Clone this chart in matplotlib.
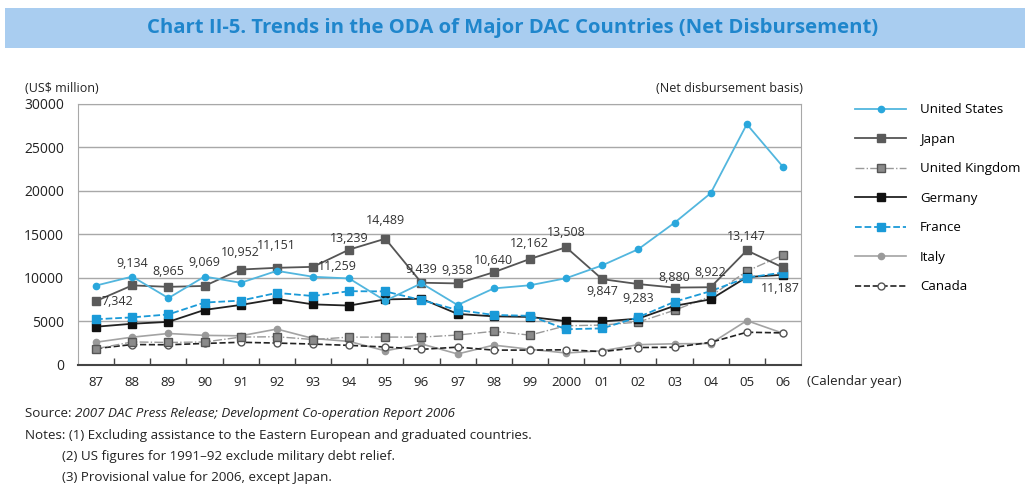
import numpy as np
import matplotlib.pyplot as plt
from matplotlib.patches import Rectangle

plt.rcParams['font.family'] = ['Open Sans', 'DejaVu Sans']

years = ['87', '88', '89', '90', '91', '92', '93', '94', '95', '96', '97',
         '98', '99', '2000', '01', '02', '03', '04', '05', '06']

# ODA net disbursements, US$ million
usa = [9115, 10141, 7676, 10150, 9430, 10800, 10123, 9927, 7367, 9377,
       6878, 8786, 9145, 9955, 11429, 13290, 16320, 19705, 27622, 22739]
japan = [7342, 9134, 8965, 9069, 10952, 11151, 11259, 13239, 14489, 9439,
         9358, 10640, 12162, 13508, 9847, 9283, 8880, 8922, 13147, 11187]
uk = [1871, 2645, 2587, 2638, 3201, 3243, 2920, 3197, 3202, 3199,
      3433, 3864, 3426, 4501, 4579, 4924, 6282, 7883, 10767, 12607]
germany = [4391, 4731, 4949, 6320, 6890, 7583, 6954, 6818, 7524, 7601,
           5857, 5581, 5515, 5030, 4990, 5324, 6784, 7534, 10082, 10351]
france = [5250, 5463, 5802, 7163, 7386, 8270, 7915, 8466, 8443, 7451,
          6307, 5742, 5639, 4105, 4198, 5486, 7253, 8473, 10026, 10601]
italy = [2615, 3193, 3613, 3395, 3347, 4122, 3043, 2705, 1623, 2416,
         1266, 2278, 1806, 1376, 1627, 2332, 2433, 2462, 5091, 3641]
canada = [1885, 2347, 2320, 2470, 2604, 2515, 2400, 2250, 2067, 1795,
          2045, 1707, 1706, 1744, 1533, 2006, 2031, 2599, 3756, 3684]

# where each Japan label sits relative to its point (pixels)
japan_offsets = [(22, -1), (0, 22), (0, 15), (0, 23), (0, 17), (0, 22),
                 (24, 0), (0, 11), (0, 18), (0, 13), (0, 13), (0, 12),
                 (0, 15), (0, 15), (0, -12), (0, -14), (0, 10), (0, 15),
                 (0, 14), (-3, -21)]

fig = plt.figure(figsize=(10.25, 4.86), dpi=100)

# title banner
fig.patches.append(Rectangle((0.005, 0.901), 0.995, 0.083, transform=fig.transFigure,
                             facecolor='#a9cdf0', edgecolor='none', zorder=0))
fig.text(0.5, 0.942, 'Chart II-5. Trends in the ODA of Major DAC Countries (Net Disbursement)',
         ha='center', va='center', fontsize=14.6, fontweight='bold', color='#1f86cc')

ax = fig.add_axes([0.0761, 0.249, 0.7054, 0.538])
x = np.arange(len(years))

ax.plot(x, italy, '-o', color='#a3a3a3', lw=1.2, ms=4.5, mfc='#9a9a9a', mec='#9a9a9a',
        label='Italy', zorder=3)
ax.plot(x, canada, '--o', color='#222222', lw=1.2, ms=5, mfc='white', mec='#555555',
        label='Canada', zorder=3)
ax.plot(x, uk, '-.s', color='#999999', lw=1.0, ms=6, mfc='#8a8a8a', mec='#555555',
        label='United Kingdom', zorder=4)
ax.plot(x, germany, '-s', color='#222222', lw=1.3, ms=6, mfc='#111111', mec='#111111',
        label='Germany', zorder=5)
ax.plot(x, france, '--s', color='#1a9ad8', lw=1.3, ms=6, mfc='#1a9ad8', mec='#1a9ad8',
        label='France', zorder=5)
ax.plot(x, japan, '-s', color='#555555', lw=1.3, ms=6, mfc='#5a5a5a', mec='#5a5a5a',
        label='Japan', zorder=6)
ax.plot(x, usa, '-o', color='#52b6de', lw=1.3, ms=4.5, mfc='#2aa7dc', mec='#2aa7dc',
        label='United States', zorder=7)

for i, v in enumerate(japan):
    dx, dy = japan_offsets[i]
    ha = 'left' if dx > 10 else 'center'
    ax.annotate(f'{v:,}', (x[i], v), xytext=(dx if ha == 'center' else 5, dy),
                textcoords='offset pixels', ha=ha, va='center',
                fontsize=9, color='#333333', zorder=8)

ax.set_xlim(-0.5, len(years) - 0.5)
ax.set_ylim(0, 30000)
ax.set_yticks(np.arange(0, 30001, 5000))
ax.set_xticks(x)
ax.set_xticklabels(years)
ax.set_xticks(np.arange(0.5, len(years) - 1, 1), minor=True)
ax.tick_params(axis='x', which='major', length=0, pad=8, labelsize=9.5, colors='#222222')
ax.tick_params(axis='x', which='minor', direction='in', length=5, width=1, color='#444444')
ax.tick_params(axis='y', length=0, pad=10, labelsize=10, colors='#222222')
ax.yaxis.grid(True, color='#a8a8a8', lw=1)
ax.set_axisbelow(True)
for side in ['top', 'right', 'left']:
    ax.spines[side].set_color('#a8a8a8')
ax.spines['bottom'].set_color('#444444')
ax.spines['bottom'].set_linewidth(1.5)

fig.text(0.024, 0.818, '(US$ million)', fontsize=9, color='#222222', va='center')
fig.text(0.783, 0.818, '(Net disbursement basis)', fontsize=9, color='#222222',
         va='center', ha='right')
fig.text(0.787, 0.214, '(Calendar year)', fontsize=9.5, color='#222222', va='center')

handles, labels = ax.get_legend_handles_labels()
order = ['United States', 'Japan', 'United Kingdom', 'Germany', 'France', 'Italy', 'Canada']
hmap = dict(zip(labels, handles))
fig.legend([hmap[k] for k in order], order, loc='upper left',
           bbox_to_anchor=(0.823, 0.812), frameon=False, fontsize=9.5,
           handlelength=3.8, handletextpad=1.1, labelspacing=1.25, numpoints=1)

# source line: plain prefix followed by the italic reference
notes_size = 9.6
src = fig.text(0.024, 0.150, 'Source: ', fontsize=notes_size, color='#222222', va='center')
renderer = fig.canvas.get_renderer()
bb = src.get_window_extent(renderer=renderer)
fig.text(bb.x1 / fig.bbox.width, 0.150,
         '2007 DAC Press Release; Development Co-operation Report 2006',
         fontsize=notes_size, color='#222222', va='center', style='italic')
fig.text(0.024, 0.103, 'Notes: (1) Excluding assistance to the Eastern European and graduated countries.',
         fontsize=notes_size, color='#222222', va='center')
fig.text(0.060, 0.060, '(2) US figures for 1991\u201392 exclude military debt relief.',
         fontsize=notes_size, color='#222222', va='center')
fig.text(0.060, 0.017, '(3) Provisional value for 2006, except Japan.',
         fontsize=notes_size, color='#222222', va='center')

fig.savefig('out.png', dpi=100)
